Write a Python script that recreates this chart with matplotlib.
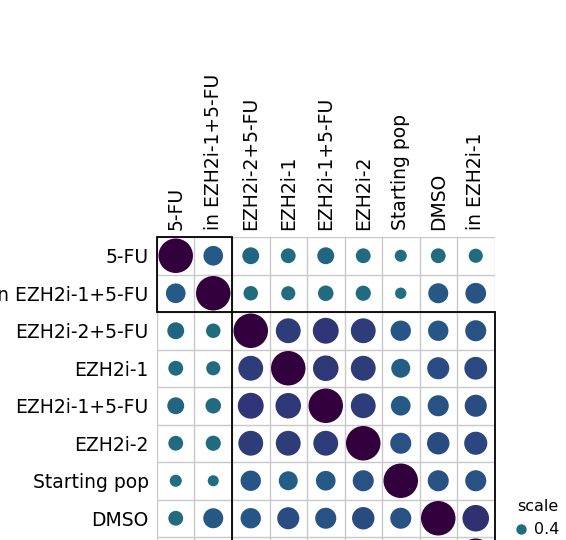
import numpy as np
import matplotlib
matplotlib.use("Agg")
import matplotlib.pyplot as plt
from matplotlib.colors import LinearSegmentedColormap
from matplotlib.patches import Rectangle
from matplotlib.lines import Line2D

# labels (same order on both axes)
labels = ["5-FU", "in EZH2i-1+5-FU", "EZH2i-2+5-FU", "EZH2i-1", "EZH2i-1+5-FU",
          "EZH2i-2", "Starting pop", "DMSO", "in EZH2i-1"]

# correlation values
corr = [
    [1.00, 0.57, 0.49, 0.43, 0.49, 0.43, 0.35, 0.43, 0.41],
    [0.57, 1.00, 0.42, 0.41, 0.45, 0.44, 0.33, 0.58, 0.60],
    [0.49, 0.42, 1.00, 0.72, 0.75, 0.72, 0.59, 0.59, 0.61],
    [0.43, 0.41, 0.72, 1.00, 0.74, 0.72, 0.55, 0.64, 0.66],
    [0.49, 0.45, 0.75, 0.74, 1.00, 0.72, 0.57, 0.61, 0.64],
    [0.43, 0.44, 0.72, 0.72, 0.72, 1.00, 0.61, 0.65, 0.67],
    [0.35, 0.32, 0.59, 0.55, 0.57, 0.61, 1.00, 0.61, 0.61],
    [0.43, 0.58, 0.59, 0.64, 0.61, 0.65, 0.61, 1.00, 0.77],
    [0.41, 0.60, 0.61, 0.66, 0.64, 0.67, 0.61, 0.77, 1.00],
]

# hierarchical clusters (first index, last index)
clusters = [(0, 1), (2, 8)]

cmap = LinearSegmentedColormap.from_list("corr", [
    (0.0, "#1e7b7f"), (0.45, "#216a80"), (0.57, "#255a86"), (0.65, "#2a4a82"),
    (0.75, "#2f3676"), (0.8, "#302c70"), (1.0, "#33003e")])

plt.rcParams["font.family"] = ["DejaVu Sans"]

fig = plt.figure(figsize=(5.66, 5.40), dpi=100)
ax = fig.add_axes([157 / 566, 1 - 574.5 / 540, 337.5 / 566, 337.5 / 540])

n = len(labels)
vals = np.array(corr)
yy, xx = np.meshgrid(np.arange(n), np.arange(n), indexing="ij")
diam_pt = 34.5 * vals.ravel() * 72 / 100
ax.scatter(xx.ravel(), yy.ravel(), s=diam_pt ** 2, c=vals.ravel(), cmap=cmap,
           vmin=0, vmax=1, linewidths=0, zorder=3)

ax.set_xlim(-0.5, n - 0.5)
ax.set_ylim(n - 0.5, -0.5)
ax.set_xticks(range(n))
ax.set_yticks(range(n))
ax.set_xticklabels(labels, rotation=90, fontsize=13.5)
ax.set_yticklabels(labels, fontsize=13.5)
ax.xaxis.tick_top()
ax.tick_params(axis="x", length=0, pad=5)
ax.tick_params(axis="y", length=0, pad=6)
ax.set_xticks(np.arange(-0.5, n, 1), minor=True)
ax.set_yticks(np.arange(-0.5, n, 1), minor=True)
ax.tick_params(which="minor", length=0)
ax.grid(which="minor", color="#c8c8c8", linewidth=1)
ax.grid(which="major", visible=False)
for sp in ax.spines.values():
    sp.set_visible(False)

for a, b in clusters:
    ax.add_patch(Rectangle((a - 0.5, a - 0.5), b - a + 1, b - a + 1, fill=False,
                           edgecolor="black", linewidth=1.3, zorder=4, clip_on=False))

# legend "scale" at bottom right
h = Line2D([], [], marker="o", linestyle="", markersize=7.5,
           markerfacecolor=cmap(0.4), markeredgewidth=0)
fig.legend([h], ["0.4"], title="scale", loc="upper left",
           bbox_to_anchor=(516 / 566, 1 - 499 / 540), frameon=False,
           fontsize=11.5, title_fontsize=11.5, handletextpad=0.5, borderpad=0,
           handlelength=0.6, labelspacing=0.2, borderaxespad=0)
fig.legends[0]._legend_box.sep = 6

fig.savefig("out.png", dpi=100)
